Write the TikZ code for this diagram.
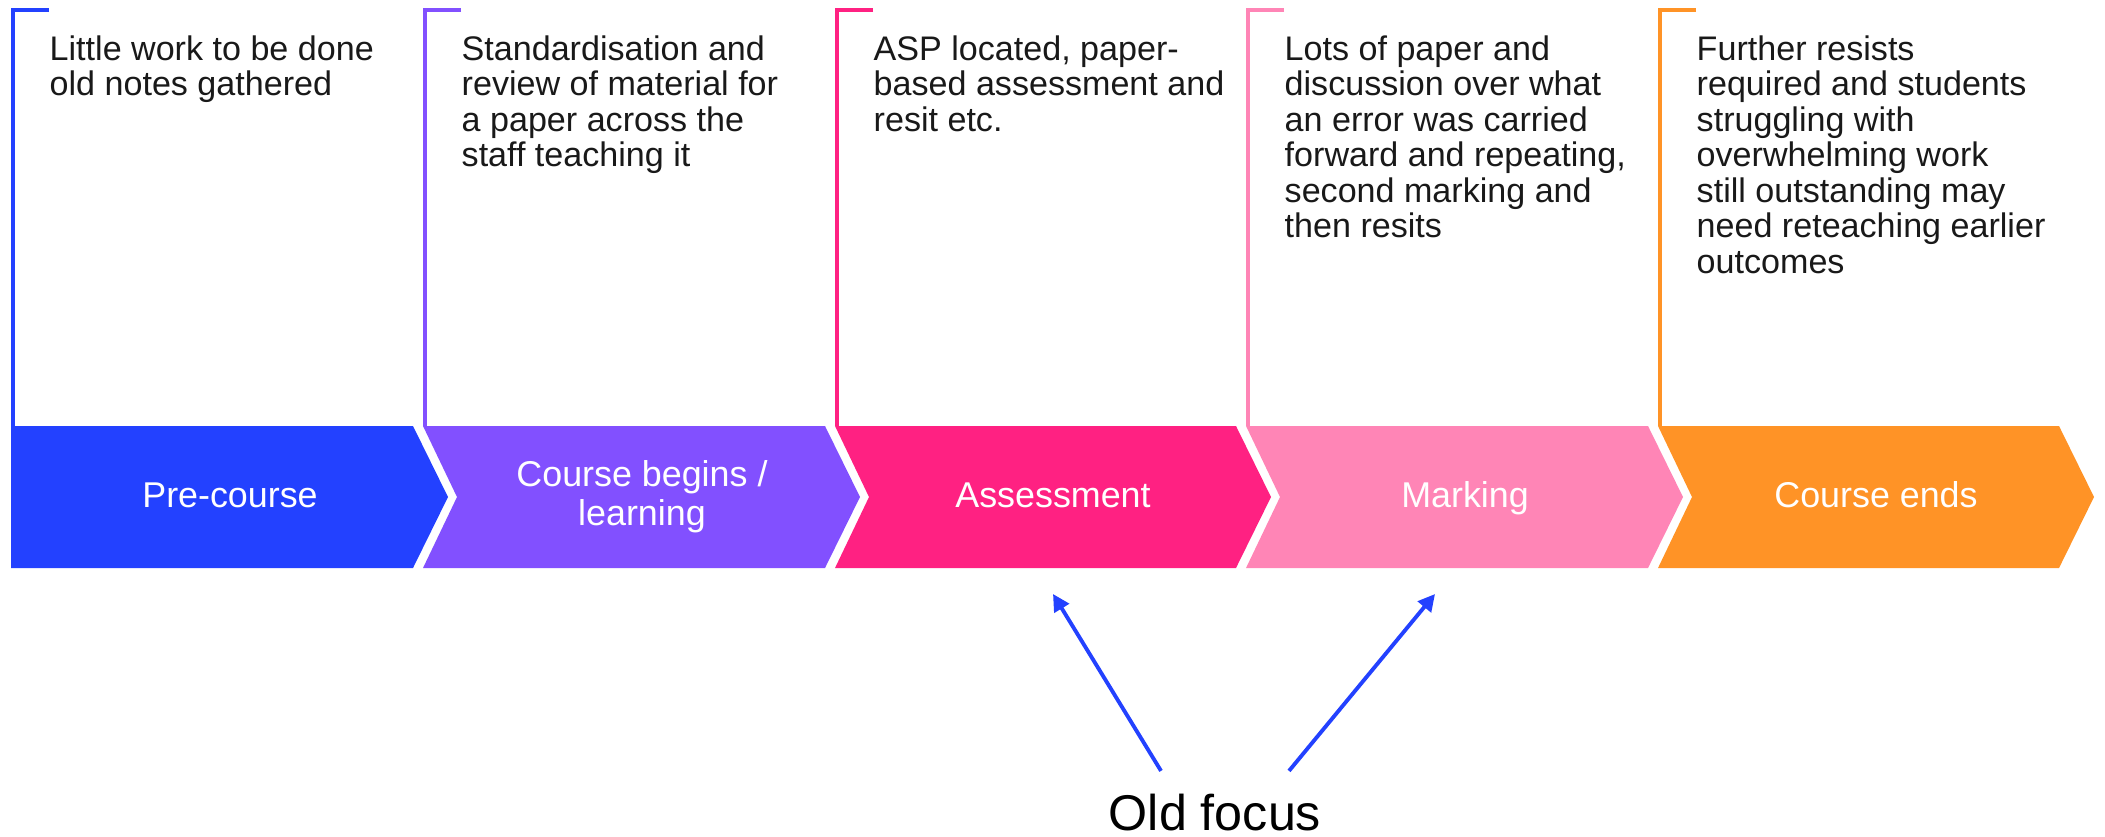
\documentclass[tikz,border=0pt]{standalone}
\usepackage{fontspec}
\setmainfont{Liberation Sans}
\usepackage{tikz}
\usetikzlibrary{arrows.meta}
\usetikzlibrary{positioning}
\usepackage{xcolor}

\definecolor{preblue}{HTML}{2341FF}
\definecolor{learnpurple}{HTML}{8250FF}
\definecolor{assesspink}{HTML}{FF2182}
\definecolor{markpink}{HTML}{FF85B6}
\definecolor{endorange}{HTML}{FF9326}

\begin{document}
\begin{tikzpicture}[
  bracket/.style={line width=1pt},
  note/.style={anchor=north west, inner sep=0pt, align=left, text=black!90, font=\fontsize{9.7}{10.1}\selectfont},
  stage/.style={text=white, align=center, inner sep=0pt, font=\fontsize{10.2}{11.1}\selectfont},
  focusarrow/.style={line width=1.1pt, color=preblue, -{Triangle[length=4.8pt, width=4.8pt]}}
]

\useasboundingbox (0,0) rectangle (21.05,8.36);

%brackets
\draw[bracket, preblue] (0.49,8.26) -- (0.13,8.26) -- (0.13,4.10);
\draw[bracket, learnpurple] (4.61,8.26) -- (4.25,8.26) -- (4.25,4.10);
\draw[bracket, assesspink] (8.73,8.26) -- (8.37,8.26) -- (8.37,4.10);
\draw[bracket, markpink] (12.84,8.26) -- (12.48,8.26) -- (12.48,4.10);
\draw[bracket, endorange] (16.96,8.26) -- (16.60,8.26) -- (16.60,4.10);

%chevrons
\fill[preblue] (0.11,2.68) -- (0.11,4.10) -- (4.13,4.10) -- (4.48,3.39) -- (4.13,2.68) -- cycle;
\fill[learnpurple] (4.23,2.68) -- (4.57,3.39) -- (4.23,4.10) -- (8.25,4.10) -- (8.60,3.39) -- (8.25,2.68) -- cycle;
\fill[assesspink] (8.35,2.68) -- (8.69,3.39) -- (8.35,4.10) -- (12.36,4.10) -- (12.71,3.39) -- (12.36,2.68) -- cycle;
\fill[markpink] (12.46,2.68) -- (12.80,3.39) -- (12.46,4.10) -- (16.48,4.10) -- (16.83,3.39) -- (16.48,2.68) -- cycle;
\fill[endorange] (16.58,2.68) -- (16.92,3.39) -- (16.58,4.10) -- (20.59,4.10) -- (20.94,3.39) -- (20.59,2.68) -- cycle;

%stage labels
\node[stage, anchor=base] (precourse) at (2.30,3.29) {Pre-course};
\node[stage] (learning) at (6.42,3.39) {Course begins /\\learning};
\node[stage, anchor=base] (assessment) at (10.53,3.29) {Assessment};
\node[stage, anchor=base] (marking) at (14.65,3.29) {Marking};
\node[stage, anchor=base] (courseends) at (18.76,3.29) {Course ends};

%notes
\node[note] (precoursenote) at (0.49,8.01) {Little work to be done\\old notes gathered};
\node[note] (learningnote) at (4.61,8.01) {Standardisation and\\review of material for\\a paper across the\\staff teaching it};
\node[note] (assessmentnote) at (8.73,8.01) {ASP located, paper-\\based assessment and\\resit etc.};
\node[note] (markingnote) at (12.84,8.01) {Lots of paper and\\discussion over what\\an error was carried\\forward and repeating,\\second marking and\\then resits};
\node[note] (courseendsnote) at (16.96,8.01) {Further resists\\required and students\\struggling with\\overwhelming work\\still outstanding may\\need reteaching earlier\\outcomes};

%old focus
\node[anchor=base, inner sep=0pt, font=\fontsize{14.3}{16}\selectfont] (focus) at (12.15,0.06) {Old focus};
\coordinate (focusA) at (10.53,2.42);
\coordinate (focusB) at (14.35,2.42);
\draw[focusarrow] ([shift={(-0.54,0.22)}]focus.north) -- (focusA);
\draw[focusarrow] ([shift={(0.74,0.22)}]focus.north) -- (focusB);

\end{tikzpicture}
\end{document}
